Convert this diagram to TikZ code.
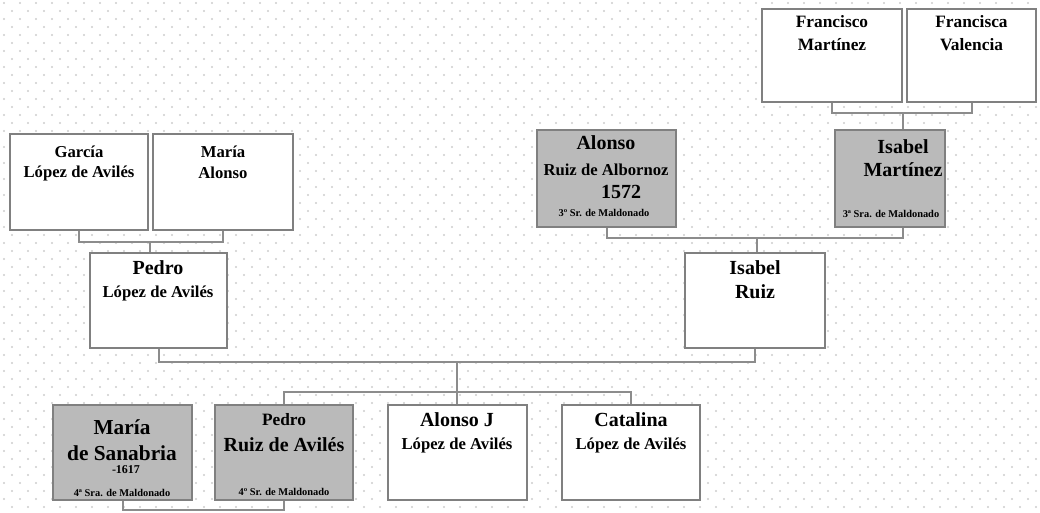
\documentclass[tikz,border=0pt]{standalone}
\usepackage{fontspec}
\setmainfont{Liberation Serif}
\begin{document}
\begin{tikzpicture}[x=0.75pt,y=-0.75pt,
    box/.style={draw=black!50, line width=1.5pt, fill=white, inner sep=0pt},
    gbox/.style={box, fill=black!27},
    sz/.style 2 args={minimum width=#1*0.75pt, minimum height=#2*0.75pt},
    lnk/.style={draw=black!45, line width=1.5pt},
    f16/.style={font=\bfseries\fontsize{16}{18}\selectfont},
    f15/.style={font=\bfseries\fontsize{15}{17}\selectfont},
    f13/.style={font=\bfseries\fontsize{13}{15}\selectfont},
    f12/.style={font=\bfseries\fontsize{12.5}{14}\selectfont},
    f9/.style={font=\bfseries\fontsize{9}{10}\selectfont},
    f7/.style={font=\bfseries\fontsize{7.8}{9}\selectfont}]
	\useasboundingbox (0,0) rectangle (1040,513);
	% dotted paper
	\foreach \j in {0,...,32} {
		\fill[black!20] foreach \i in {0,...,65} {
			(16*\i+4,16*\j+3) circle (1.1) (16*\i+12,16*\j+11) circle (1.1) };
	}
	% boxes
	\node[box, sz={140}{93}] (fmart) at (832,55.5) {};
	\node[box, sz={129}{93}] (fvale) at (971.5,55.5) {};
	\node[box, sz={138}{96}] (garcia) at (79,182) {};
	\node[box, sz={140}{96}] (maria) at (223,182) {};
	\node[gbox, sz={139}{97}] (alonso) at (606.5,178.5) {};
	\node[gbox, sz={110}{97}] (imart) at (890,178.5) {};
	\node[box, sz={137}{95}] (pedro) at (158.5,300.5) {};
	\node[box, sz={140}{95}] (iruiz) at (755,300.5) {};
	\node[gbox, sz={139}{95}] (msana) at (122.5,452.5) {};
	\node[gbox, sz={138}{95}] (pruiz) at (284,452.5) {};
	\node[box, sz={139}{95}] (alonsoj) at (457.5,452.5) {};
	\node[box, sz={138}{95}] (catal) at (631,452.5) {};
	% names
	\node[f13] (fmart-a) at (832,22) {Francisco};
	\node[f13] (fmart-b) at (832,45) {Martínez};
	\node[f13] (fvale-a) at (971.5,22) {Francisca};
	\node[f13] (fvale-b) at (971.5,45) {Valencia};
	\node[f12] (garcia-a) at (79,152) {García};
	\node[f12] (garcia-b) at (79,173) {López de Avilés};
	\node[f12] (maria-a) at (223,152) {María};
	\node[f12] (maria-b) at (223,173) {Alonso};
	\node[f15] (alonso-a) at (606,143) {Alonso};
	\node[f12] (alonso-b) at (606,170) {Ruiz de Albornoz};
	\node[f15] (alonso-c) at (621,192) {1572};
	\node[f7] (alonso-d) at (604,213) {3º Sr. de Maldonado};
	\node[f15] (imart-a) at (903,147) {Isabel};
	\node[f15] (imart-b) at (903,170) {Martínez};
	\node[f7] (imart-c) at (891,214) {3ª Sra. de Maldonado};
	\node[f15] (pedro-a) at (158,268) {Pedro};
	\node[f12] (pedro-b) at (158,293) {López de Avilés};
	\node[f15] (iruiz-a) at (755,268) {Isabel};
	\node[f15] (iruiz-b) at (755,292) {Ruiz};
	\node[f16] (msana-a) at (122,427) {María};
	\node[f16] (msana-b) at (122,453) {de Sanabria};
	\node[f9] (msana-c) at (126,470) {-1617};
	\node[f7] (msana-d) at (122,493) {4ª Sra. de Maldonado};
	\node[f13] (pruiz-a) at (284,420) {Pedro};
	\node[f15] (pruiz-b) at (284,445) {Ruiz de Avilés};
	\node[f7] (pruiz-c) at (284,492) {4º Sr. de Maldonado};
	\node[f15] (alonsoj-a) at (457,420) {Alonso J};
	\node[f12] (alonsoj-b) at (457,445) {López de Avilés};
	\node[f15] (catal-a) at (631,420) {Catalina};
	\node[f12] (catal-b) at (631,445) {López de Avilés};
	% lines
	\coordinate (fm) at (903,113);
	\coordinate (gm) at (150,242);
	\coordinate (ai) at (757,238);
	\coordinate (pi) at (457,362);
	\coordinate (ch) at (457,392);
	\coordinate (mp) at (200,510);
	\draw[lnk] (fmart.south) |- (fm) -| (fvale.south);
	\draw[lnk] (fm) -- (imart.north -| fm);
	\draw[lnk] (garcia.south) |- (gm) -| (maria.south);
	\draw[lnk] (gm) -- (pedro.north -| gm);
	\draw[lnk] (alonso.south) |- (ai) -| (imart.south -| fm);
	\draw[lnk] (ai) -- (iruiz.north -| ai);
	\draw[lnk] (pedro.south) |- (pi) -| (iruiz.south);
	\draw[lnk] (pi) -- (alonsoj.north -| pi);
	\draw[lnk] (pruiz.north) |- (ch) -| (catal.north);
	\draw[lnk] (msana.south) |- (mp) -| (pruiz.south);
\end{tikzpicture}
\end{document}
